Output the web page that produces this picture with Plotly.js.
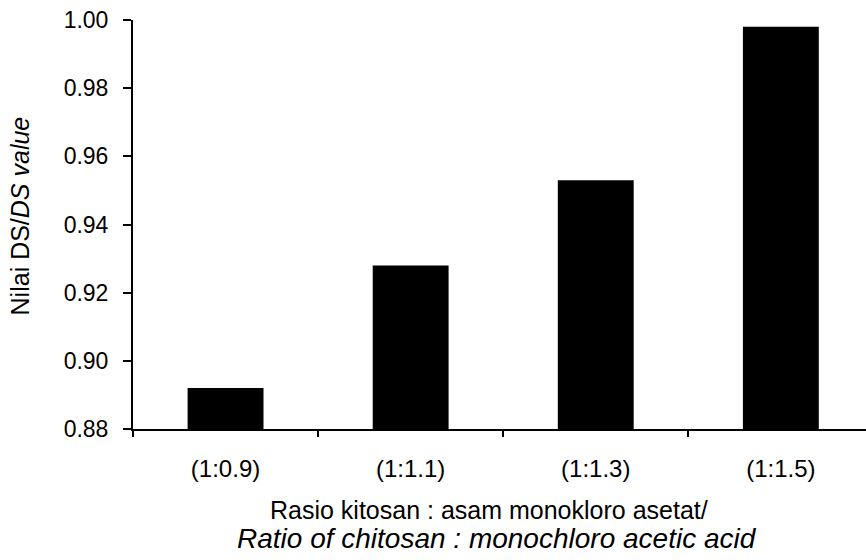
<!DOCTYPE html>
<html>
<head>
<meta charset="utf-8">
<script src="https://cdn.plot.ly/plotly-3.0.1.min.js"></script>
<style>
html,body{margin:0;padding:0;background:#fff;}
#chart{width:866px;height:560px;}
</style>
</head>
<body>
<div id="chart"></div>
<script>
const categories = ["(1:0.9)", "(1:1.1)", "(1:1.3)", "(1:1.5)"];
const dsValues = [0.892, 0.928, 0.953, 0.998];
const yTickValues = [0.88, 0.90, 0.92, 0.94, 0.96, 0.98, 1.00];
const yTitle = "Nilai DS/<i>DS value</i>";
const xTitleLine1 = "Rasio kitosan : asam monokloro asetat/";
const xTitleLine2 = "<i>Ratio of chitosan : monochloro acetic acid</i>";

const FONT = "Liberation Sans, Arial, Helvetica, sans-serif";

const trace = {
  type: "bar",
  x: categories,
  y: dsValues,
  width: 0.41,
  marker: {color: "#000000", line: {width: 0}},
  hoverinfo: "skip"
};

const layout = {
  width: 866,
  height: 560,
  margin: {l: 133, r: 0, t: 20, b: 131, pad: 0},
  paper_bgcolor: "#ffffff",
  plot_bgcolor: "#ffffff",
  showlegend: false,
  font: {family: FONT, color: "#000000", size: 22},
  xaxis: {
    type: "category",
    range: [-0.5, 3.46],
    showgrid: false,
    zeroline: false,
    showline: true,
    linecolor: "#000000",
    linewidth: 2,
    ticks: "outside",
    tickson: "boundaries",
    ticklen: 6,
    tickwidth: 2,
    tickcolor: "#000000",
    ticklabelstandoff: 17,
    tickfont: {family: FONT, size: 24, color: "#000000"}
  },
  yaxis: {
    range: [0.88, 1.00],
    tickvals: yTickValues,
    tickformat: ".2f",
    showgrid: false,
    zeroline: false,
    showline: true,
    linecolor: "#000000",
    linewidth: 2,
    ticks: "outside",
    ticklen: 8,
    tickwidth: 2,
    tickcolor: "#000000",
    ticklabelstandoff: 10,
    tickfont: {family: FONT, size: 23, color: "#000000"}
  },
  annotations: [
    {
      text: yTitle,
      xref: "paper", yref: "paper",
      x: -0.154, y: 0.52,
      xanchor: "center", yanchor: "middle",
      textangle: -90,
      showarrow: false,
      font: {family: FONT, size: 25, color: "#000000"}
    },
    {
      text: xTitleLine1,
      xref: "paper", yref: "paper",
      x: 0.485, y: -0.197,
      xanchor: "center", yanchor: "middle",
      showarrow: false,
      font: {family: FONT, size: 25, color: "#000000"}
    },
    {
      text: xTitleLine2,
      xref: "paper", yref: "paper",
      x: 0.497, y: -0.267,
      xanchor: "center", yanchor: "middle",
      showarrow: false,
      font: {family: FONT, size: 28, color: "#000000"}
    }
  ]
};

Plotly.newPlot("chart", [trace], layout, {displayModeBar: false, staticPlot: true});
</script>
</body>
</html>
